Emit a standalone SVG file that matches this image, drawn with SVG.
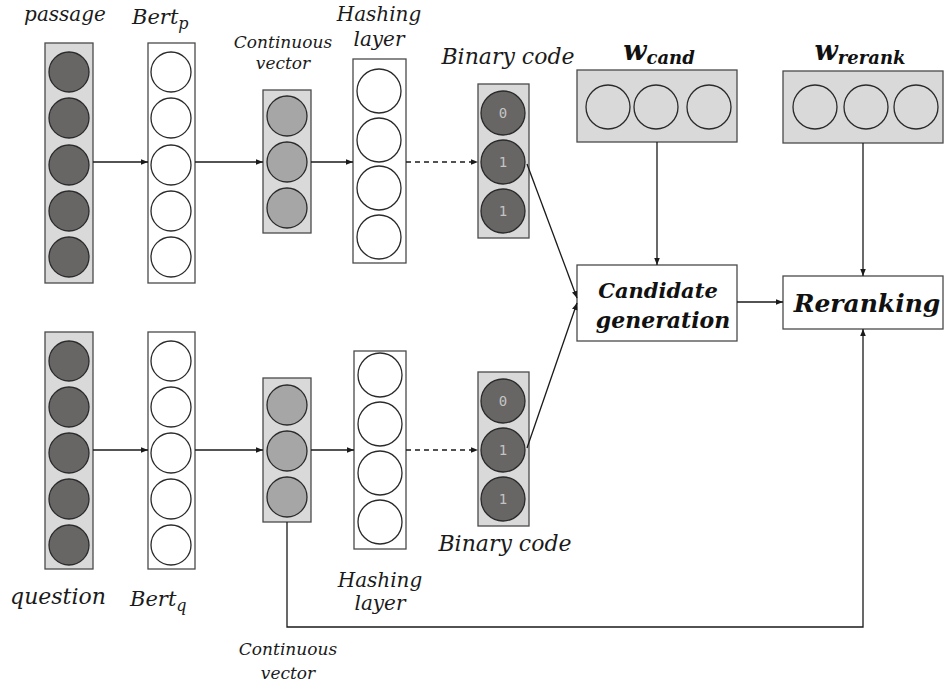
<svg xmlns="http://www.w3.org/2000/svg" width="944" height="691" viewBox="0 0 944 691">
<style>
.gbox{fill:#d9d9d9;stroke:#4a4a4a;stroke-width:1.3}
.wbox{fill:#ffffff;stroke:#4a4a4a;stroke-width:1.3}
.dark{fill:#686565;stroke:#2a2a2a;stroke-width:1.3}
.mid{fill:#a6a6a6;stroke:#2a2a2a;stroke-width:1.3}
.white{fill:#ffffff;stroke:#2a2a2a;stroke-width:1.3}
.light{fill:#d9d9d9;stroke:#2a2a2a;stroke-width:1.3}
.lbl{font-family:"DejaVu Serif","Liberation Serif",serif;font-style:italic;fill:#1a1a1a}
.bold{font-family:"DejaVu Serif","Liberation Serif",serif;font-style:italic;font-weight:bold;fill:#111}
.bit{font-family:"DejaVu Sans Mono","Liberation Mono",monospace;font-size:14px;fill:#c4c4c4;text-anchor:middle}
.conn{fill:none;stroke:#1a1a1a;stroke-width:1.3}
.dash{stroke-dasharray:5 4}
</style>
<defs>
<marker id="arr" viewBox="0 0 10 10" refX="10" refY="5" markerWidth="7" markerHeight="7" markerUnits="userSpaceOnUse" orient="auto">
<path d="M0,1 L10,5 L0,9 Z" fill="#1a1a1a"/>
</marker>
</defs>

<g id="passage">
<rect class="gbox" x="45" y="43" width="48" height="240"/>
<circle class="dark" cx="69" cy="72" r="20"/>
<circle class="dark" cx="69" cy="118" r="20"/>
<circle class="dark" cx="69" cy="165" r="20"/>
<circle class="dark" cx="69" cy="211" r="20"/>
<circle class="dark" cx="69" cy="257" r="20"/>
<text class="lbl" x="65" y="21" font-size="20" text-anchor="middle">passage</text>
</g>

<g id="bert_p">
<rect class="wbox" x="148" y="43" width="47" height="240"/>
<circle class="white" cx="171" cy="72" r="20"/>
<circle class="white" cx="171" cy="118" r="20"/>
<circle class="white" cx="171" cy="165" r="20"/>
<circle class="white" cx="171" cy="211" r="20"/>
<circle class="white" cx="171" cy="257" r="20"/>
<text class="lbl" x="132" y="24" font-size="21">Bert<tspan font-size="16" dy="5">p</tspan></text>
</g>

<g id="cont_p">
<rect class="gbox" x="263" y="90" width="48" height="143"/>
<circle class="mid" cx="287" cy="116" r="20"/>
<circle class="mid" cx="287" cy="162" r="20"/>
<circle class="mid" cx="287" cy="208" r="20"/>
<text class="lbl" x="283" y="48" font-size="17" text-anchor="middle">Continuous</text>
<text class="lbl" x="283" y="69" font-size="17" text-anchor="middle">vector</text>
</g>

<g id="hash_p">
<rect class="wbox" x="353" y="59" width="53" height="204"/>
<circle class="white" cx="379" cy="91" r="22"/>
<circle class="white" cx="379" cy="140" r="22"/>
<circle class="white" cx="379" cy="188" r="22"/>
<circle class="white" cx="379" cy="237" r="22"/>
<text class="lbl" x="379" y="21" font-size="20" text-anchor="middle">Hashing</text>
<text class="lbl" x="379" y="46" font-size="20" text-anchor="middle">layer</text>
</g>

<g id="bin_p">
<rect class="gbox" x="478" y="84" width="51" height="154"/>
<circle class="dark" cx="503" cy="113" r="22"/>
<circle class="dark" cx="503" cy="162" r="22"/>
<circle class="dark" cx="503" cy="211" r="22"/>
<text class="bit" x="503" y="118">0</text>
<text class="bit" x="503" y="167">1</text>
<text class="bit" x="503" y="216">1</text>
<text class="lbl" x="508" y="64" font-size="22" text-anchor="middle">Binary code</text>
</g>

<g id="question">
<rect class="gbox" x="45" y="332" width="48" height="237"/>
<circle class="dark" cx="69" cy="361" r="20"/>
<circle class="dark" cx="69" cy="407" r="20"/>
<circle class="dark" cx="69" cy="453" r="20"/>
<circle class="dark" cx="69" cy="499" r="20"/>
<circle class="dark" cx="69" cy="545" r="20"/>
<text class="lbl" x="58" y="604" font-size="22" text-anchor="middle">question</text>
</g>

<g id="bert_q">
<rect class="wbox" x="148" y="332" width="47" height="237"/>
<circle class="white" cx="171" cy="361" r="20"/>
<circle class="white" cx="171" cy="407" r="20"/>
<circle class="white" cx="171" cy="453" r="20"/>
<circle class="white" cx="171" cy="499" r="20"/>
<circle class="white" cx="171" cy="545" r="20"/>
<text class="lbl" x="130" y="606" font-size="21">Bert<tspan font-size="16" dy="5">q</tspan></text>
</g>

<g id="cont_q">
<rect class="gbox" x="263" y="378" width="48" height="144"/>
<circle class="mid" cx="287" cy="405" r="20"/>
<circle class="mid" cx="287" cy="451" r="20"/>
<circle class="mid" cx="287" cy="497" r="20"/>
<text class="lbl" x="288" y="655" font-size="17" text-anchor="middle">Continuous</text>
<text class="lbl" x="288" y="679" font-size="17" text-anchor="middle">vector</text>
</g>

<g id="hash_q">
<rect class="wbox" x="354" y="351" width="52" height="198"/>
<circle class="white" cx="380" cy="375" r="22"/>
<circle class="white" cx="380" cy="424" r="22"/>
<circle class="white" cx="380" cy="473" r="22"/>
<circle class="white" cx="380" cy="522" r="22"/>
<text class="lbl" x="380" y="587" font-size="20" text-anchor="middle">Hashing</text>
<text class="lbl" x="380" y="610" font-size="20" text-anchor="middle">layer</text>
</g>

<g id="bin_q">
<rect class="gbox" x="478" y="372" width="51" height="154"/>
<circle class="dark" cx="503" cy="401" r="22"/>
<circle class="dark" cx="503" cy="450" r="22"/>
<circle class="dark" cx="503" cy="499" r="22"/>
<text class="bit" x="503" y="406">0</text>
<text class="bit" x="503" y="455">1</text>
<text class="bit" x="503" y="504">1</text>
<text class="lbl" x="505" y="551" font-size="22" text-anchor="middle">Binary code</text>
</g>

<g id="w_cand">
<rect class="gbox" x="577" y="70" width="160" height="72"/>
<circle class="light" cx="608" cy="107" r="22"/>
<circle class="light" cx="656" cy="107" r="22"/>
<circle class="light" cx="709" cy="107" r="22"/>
<text class="bold" x="659" y="60" font-size="27" text-anchor="middle">w<tspan font-size="18" dy="4">cand</tspan></text>
</g>

<g id="w_rerank">
<rect class="gbox" x="783" y="71" width="160" height="72"/>
<circle class="light" cx="815" cy="107" r="22"/>
<circle class="light" cx="866" cy="107" r="22"/>
<circle class="light" cx="916" cy="107" r="22"/>
<text class="bold" x="860" y="60" font-size="27" text-anchor="middle">w<tspan font-size="18" dy="4">rerank</tspan></text>
</g>

<g id="candidate">
<rect class="wbox" x="577" y="265" width="160" height="76"/>
<text class="bold" x="658" y="298" font-size="21" text-anchor="middle">Candidate</text>
<text class="bold" x="663" y="328" font-size="22" text-anchor="middle">generation</text>
</g>

<g id="reranking">
<rect class="wbox" x="783" y="276" width="160" height="53"/>
<text class="bold" x="867" y="312" font-size="25" text-anchor="middle">Reranking</text>
</g>

<g id="connectors">
<line class="conn" x1="93" y1="162" x2="148" y2="162" marker-end="url(#arr)"/>
<line class="conn" x1="195" y1="162" x2="263" y2="162" marker-end="url(#arr)"/>
<line class="conn" x1="311" y1="162" x2="353" y2="162" marker-end="url(#arr)"/>
<line class="conn dash" x1="406" y1="162" x2="478" y2="162" marker-end="url(#arr)"/>
<line class="conn" x1="93" y1="450" x2="148" y2="450" marker-end="url(#arr)"/>
<line class="conn" x1="195" y1="450" x2="263" y2="450" marker-end="url(#arr)"/>
<line class="conn" x1="311" y1="450" x2="354" y2="450" marker-end="url(#arr)"/>
<line class="conn dash" x1="406" y1="450" x2="478" y2="450" marker-end="url(#arr)"/>
<line class="conn" x1="527" y1="164" x2="577" y2="298" marker-end="url(#arr)"/>
<line class="conn" x1="527" y1="448" x2="577" y2="303" marker-end="url(#arr)"/>
<line class="conn" x1="657" y1="142" x2="657" y2="265" marker-end="url(#arr)"/>
<line class="conn" x1="863" y1="143" x2="863" y2="276" marker-end="url(#arr)"/>
<line class="conn" x1="737" y1="302" x2="783" y2="302" marker-end="url(#arr)"/>
<polyline class="conn" points="287,522 287,627 863,627 863,329" marker-end="url(#arr)"/>
</g>
</svg>
